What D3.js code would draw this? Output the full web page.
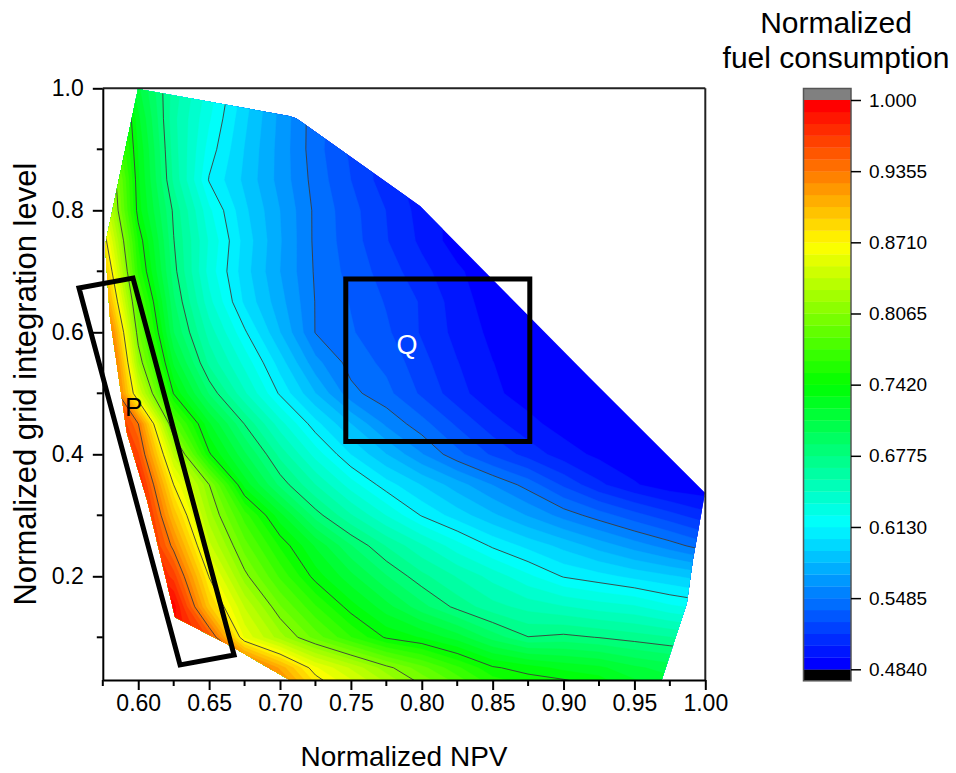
<!DOCTYPE html>
<html>
<head>
<meta charset="utf-8">
<script src="https://cdn.jsdelivr.net/npm/d3@7"></script>
<style>
  body { margin: 0; background: #fff; }
  svg { display: block; }
  text { font-family: "Liberation Sans", Arial, Helvetica, sans-serif; fill: #000; }
</style>
</head>
<body>
<svg id="chart" width="956" height="773"></svg>
<script>
// Grid nodes (normalized NPV across, grid integration level down from 1.0)
const gridX = [0.575, 0.600, 0.625, 0.650, 0.675, 0.700, 0.725, 0.750, 0.775,
               0.800, 0.825, 0.850, 0.875, 0.900, 0.925, 0.950, 0.975, 1.000];
const gridY = [1.00, 0.95, 0.90, 0.85, 0.80, 0.75, 0.70, 0.65, 0.60, 0.55, 0.50,
               0.45, 0.40, 0.35, 0.30, 0.25, 0.20, 0.15, 0.10, 0.05, 0.00];

// Normalized fuel consumption, one row per gridY value
const fuel = [
  [0.780,0.712,0.662,0.630,0.598,0.568,0.542,0.525,0.508,0.498,0.490,0.488,0.487,0.486,0.486,0.486,0.486,0.486],
  [0.820,0.723,0.659,0.625,0.594,0.567,0.542,0.528,0.512,0.500,0.490,0.487,0.486,0.486,0.486,0.486,0.486,0.486],
  [0.820,0.730,0.661,0.619,0.591,0.566,0.542,0.525,0.510,0.500,0.490,0.487,0.486,0.486,0.486,0.486,0.486,0.486],
  [0.850,0.733,0.664,0.612,0.589,0.566,0.544,0.527,0.510,0.500,0.490,0.487,0.486,0.486,0.486,0.486,0.486,0.486],
  [0.860,0.736,0.675,0.626,0.594,0.570,0.546,0.531,0.516,0.501,0.490,0.487,0.486,0.486,0.486,0.486,0.486,0.486],
  [0.885,0.751,0.678,0.633,0.598,0.571,0.546,0.532,0.517,0.503,0.489,0.486,0.485,0.485,0.485,0.485,0.485,0.485],
  [0.910,0.760,0.682,0.630,0.596,0.570,0.547,0.534,0.522,0.509,0.497,0.486,0.485,0.485,0.485,0.485,0.485,0.485],
  [0.935,0.781,0.690,0.638,0.600,0.574,0.548,0.537,0.526,0.515,0.500,0.489,0.486,0.485,0.485,0.485,0.485,0.485],
  [0.975,0.798,0.699,0.651,0.615,0.581,0.548,0.539,0.529,0.515,0.502,0.492,0.486,0.485,0.485,0.485,0.485,0.485],
  [1.000,0.818,0.718,0.664,0.631,0.597,0.563,0.544,0.535,0.520,0.506,0.495,0.488,0.486,0.485,0.485,0.485,0.485],
  [1.000,0.850,0.741,0.687,0.647,0.611,0.581,0.552,0.541,0.525,0.510,0.497,0.490,0.486,0.485,0.485,0.485,0.485],
  [1.000,0.936,0.787,0.722,0.677,0.639,0.606,0.581,0.557,0.542,0.525,0.510,0.498,0.490,0.487,0.486,0.485,0.485],
  [1.000,0.958,0.835,0.744,0.701,0.663,0.630,0.602,0.581,0.560,0.541,0.525,0.512,0.500,0.492,0.487,0.486,0.485],
  [1.000,0.985,0.871,0.807,0.727,0.685,0.656,0.629,0.607,0.591,0.575,0.559,0.544,0.525,0.508,0.496,0.488,0.486],
  [1.000,1.000,0.900,0.822,0.769,0.724,0.683,0.657,0.634,0.612,0.597,0.583,0.569,0.555,0.543,0.531,0.520,0.509],
  [1.000,1.000,0.930,0.842,0.790,0.751,0.719,0.689,0.666,0.647,0.628,0.611,0.599,0.588,0.576,0.565,0.554,0.542],
  [1.000,1.000,0.963,0.870,0.811,0.772,0.737,0.713,0.689,0.670,0.655,0.641,0.626,0.612,0.606,0.599,0.593,0.586],
  [1.000,1.000,0.995,0.895,0.838,0.797,0.765,0.736,0.714,0.692,0.674,0.660,0.652,0.646,0.640,0.636,0.626,0.620],
  [1.000,1.000,0.990,0.955,0.858,0.822,0.791,0.764,0.740,0.730,0.715,0.694,0.678,0.681,0.677,0.672,0.667,0.660],
  [1.000,1.000,1.000,0.990,0.960,0.911,0.862,0.837,0.811,0.789,0.766,0.744,0.736,0.728,0.723,0.712,0.705,0.700],
  [1.000,1.000,1.000,1.000,0.990,0.960,0.900,0.870,0.845,0.820,0.800,0.775,0.765,0.765,0.755,0.735,0.725,0.720]
];

// Outline of the sampled region
const hullNPV  = [0.5998, 0.7063, 0.7113, 0.7162, 0.7988, 0.9187, 0.9998, 0.9913, 0.9870, 0.9650,
                  0.7290, 0.6668, 0.6260, 0.6062, 0.5920, 0.5800, 0.5766];
const hullGrid = [0.9989, 0.9546, 0.9510, 0.9431, 0.8070, 0.5251, 0.3370, 0.2270, 0.1560, 0.0000,
                  0.0000, 0.0838, 0.1330, 0.3250, 0.4350, 0.6250, 0.7430];

// Axis ticks
const xTicks = [0.60, 0.65, 0.70, 0.75, 0.80, 0.85, 0.90, 0.95, 1.00];
const xMinorTicks = [0.575, 0.625, 0.675, 0.725, 0.775, 0.825, 0.875, 0.925, 0.975];
const yTicks = [0.2, 0.4, 0.6, 0.8, 1.0];
const yMinorTicks = [0.1, 0.3, 0.5, 0.7, 0.9];

// Colour scale ticks (also the levels carrying contour lines)
const cbTicks  = [1.000, 0.9355, 0.8710, 0.8065, 0.7420, 0.6775, 0.6130, 0.5485, 0.4840];
const cbLabels = ["1.000", "0.9355", "0.8710", "0.8065", "0.7420", "0.6775", "0.6130", "0.5485", "0.4840"];
const bandsPerTick = 6;

// Highlighted regions
const regionP = { npv: [0.5582, 0.5963, 0.6676, 0.6295], grid: [0.6726, 0.6890, 0.0710, 0.0546],
                  label: "P", at: [0.5967, 0.4783] };
const regionQ = { npv: [0.7464, 0.8762], grid: [0.4210, 0.6874], label: "Q", at: [0.7896, 0.5790] };

const svg = d3.select("#chart");
const x = d3.scaleLinear([0.575, 1.0], [102.8, 705.3]);
const y = d3.scaleLinear([0.03, 1.0], [680, 88.3]);

const zMin = d3.min(cbTicks), zMax = d3.max(cbTicks);
const nBands = (cbTicks.length - 1) * bandsPerTick;
const zStep = (zMax - zMin) / nBands;
const fillLevels = d3.range(nBands).map(i => zMin + i * zStep);
const lineLevels = cbTicks.filter(v => v > zMin && v < zMax);

const rainbow = d3.scaleLinear()
  .domain([0, 0.25, 0.5, 0.75, 1])
  .range(["#0000ff", "#00ffff", "#00ff00", "#ffff00", "#ff0000"])
  .interpolate(d3.interpolateRgb);
const bandColor = i => rainbow(i / (nBands - 1));

// grid index space -> screen
const nx = gridX.length, ny = gridY.length;
const dX = gridX[1] - gridX[0], dY = gridY[1] - gridY[0];
const toScreen = d3.geoTransform({
  point(cx, cy) {
    this.stream.point(x(gridX[0] + (cx - 0.5) * dX), y(gridY[0] + (cy - 0.5) * dY));
  }
});
const gridPath = d3.geoPath(toScreen);
const values = fuel.flat();

const defs = svg.append("defs");
defs.append("clipPath").attr("id", "plot-clip")
  .append("rect").attr("x", x(0.575)).attr("y", y(1.0))
  .attr("width", x(1.0) - x(0.575)).attr("height", y(0.03) - y(1.0));
defs.append("clipPath").attr("id", "hull-clip")
  .append("path")
  .attr("d", d3.line()(hullNPV.map((v, i) => [x(v), y(hullGrid[i])])) + "Z");

const plot = svg.append("g").attr("clip-path", "url(#plot-clip)")
  .append("g").attr("clip-path", "url(#hull-clip)");

// filled bands
const bands = d3.contours().size([nx, ny]).thresholds(fillLevels)(values);
plot.append("g").selectAll("path").data(bands).join("path")
  .attr("d", gridPath)
  .attr("fill", (d, i) => bandColor(i))
  .attr("stroke", (d, i) => bandColor(i))
  .attr("stroke-width", 0.4);

// contour lines at the labelled levels
const isolines = d3.contours().size([nx, ny]).thresholds(lineLevels)(values);
plot.append("g").selectAll("path").data(isolines).join("path")
  .attr("d", gridPath)
  .attr("fill", "none")
  .attr("stroke", "#3c3c3c")
  .attr("stroke-width", 0.9);

// frame
svg.append("line").attr("x1", x(0.575)).attr("x2", x(1.0)).attr("y1", y(1.0)).attr("y2", y(1.0))
  .attr("stroke", "#222").attr("stroke-width", 2);
svg.append("line").attr("x1", x(1.0)).attr("x2", x(1.0)).attr("y1", y(1.0)).attr("y2", y(0.03))
  .attr("stroke", "#222").attr("stroke-width", 2);

// axes
const xAxis = svg.append("g").attr("transform", `translate(0,${y(0.03)})`)
  .call(d3.axisBottom(x).tickValues(xTicks).tickFormat(d3.format(".2f")).tickSize(10).tickSizeOuter(0));
xAxis.append("g").selectAll("line").data(xMinorTicks).join("line")
  .attr("x1", d => x(d)).attr("x2", d => x(d)).attr("y1", 0).attr("y2", 6);

const yAxis = svg.append("g").attr("transform", `translate(${x(0.575)},0)`)
  .call(d3.axisLeft(y).tickValues(yTicks).tickFormat(d3.format(".1f")).tickSize(10).tickSizeOuter(0));
yAxis.append("g").selectAll("line").data(yMinorTicks).join("line")
  .attr("x1", 0).attr("x2", -6).attr("y1", d => y(d)).attr("y2", d => y(d));

[xAxis, yAxis].forEach(a => {
  a.select(".domain").attr("stroke", "#000").attr("stroke-width", 2);
  a.selectAll("line").attr("stroke", "#000").attr("stroke-width", 2);
  a.selectAll("text").attr("font-size", 23).attr("fill", "#000")
    .style("font-family", '"Liberation Sans", Arial, sans-serif');
});
xAxis.selectAll(".tick text").attr("dy", "0.71em").attr("y", 15);
yAxis.selectAll(".tick text").attr("x", -19);

// axis titles
svg.append("text").attr("x", (x(0.575) + x(1.0)) / 2).attr("y", 766)
  .attr("text-anchor", "middle").attr("font-size", 28).text("Normalized NPV");
svg.append("text")
  .attr("transform", `translate(36,${(y(1.0) + y(0.03)) / 2}) rotate(-90)`)
  .attr("text-anchor", "middle").attr("font-size", 31).text("Normalized grid integration level");

// highlighted regions
svg.append("polygon")
  .attr("points", regionP.npv.map((v, i) => [x(v), y(regionP.grid[i])].join(",")).join(" "))
  .attr("fill", "none").attr("stroke", "#000").attr("stroke-width", 5).attr("stroke-linejoin", "miter");
svg.append("rect")
  .attr("x", x(regionQ.npv[0])).attr("y", y(regionQ.grid[1]))
  .attr("width", x(regionQ.npv[1]) - x(regionQ.npv[0]))
  .attr("height", y(regionQ.grid[0]) - y(regionQ.grid[1]))
  .attr("fill", "none").attr("stroke", "#000").attr("stroke-width", 5);
svg.append("text").attr("x", x(regionP.at[0])).attr("y", y(regionP.at[1]))
  .attr("text-anchor", "middle").attr("dominant-baseline", "central")
  .attr("font-size", 26).text(regionP.label);
svg.append("text").attr("x", x(regionQ.at[0])).attr("y", y(regionQ.at[1]))
  .attr("text-anchor", "middle").attr("dominant-baseline", "central")
  .attr("font-size", 27).style("fill", "#fff").text(regionQ.label);

// colour scale
const cbX = 803.5, cbW = 47.5;
const cb = d3.scaleLinear([zMin, zMax], [669.3, 100]);
const cbExtra = 11.5;
const cbG = svg.append("g");
cbG.append("rect").attr("x", cbX).attr("y", cb(zMax) - cbExtra).attr("width", cbW).attr("height", cbExtra)
  .attr("fill", "#808080");
cbG.append("rect").attr("x", cbX).attr("y", cb(zMin)).attr("width", cbW).attr("height", cbExtra)
  .attr("fill", "#000");
cbG.selectAll("rect.band").data(fillLevels).join("rect").attr("class", "band")
  .attr("x", cbX).attr("width", cbW)
  .attr("y", d => cb(d + zStep))
  .attr("height", d => cb(d) - cb(d + zStep) + 0.3)
  .attr("fill", (d, i) => bandColor(i));
cbG.append("rect").attr("x", cbX).attr("y", cb(zMax) - cbExtra).attr("width", cbW)
  .attr("height", cb(zMin) - cb(zMax) + 2 * cbExtra)
  .attr("fill", "none").attr("stroke", "#555").attr("stroke-width", 1.5);
const cbAxis = svg.append("g").attr("transform", `translate(${cbX + cbW},0)`)
  .call(d3.axisRight(cb).tickValues(cbTicks).tickFormat((d, i) => cbLabels[i]).tickSize(10).tickSizeOuter(0));
cbAxis.select(".domain").remove();
cbAxis.selectAll("line").attr("stroke", "#000").attr("stroke-width", 1.5);
cbAxis.selectAll("text").attr("font-size", 19).attr("x", 18).attr("fill", "#000")
  .style("font-family", '"Liberation Sans", Arial, sans-serif');

svg.append("text").attr("x", 836).attr("y", 33).attr("text-anchor", "middle")
  .attr("font-size", 30).text("Normalized");
svg.append("text").attr("x", 836).attr("y", 68).attr("text-anchor", "middle")
  .attr("font-size", 30).text("fuel consumption");
</script>
</body>
</html>
